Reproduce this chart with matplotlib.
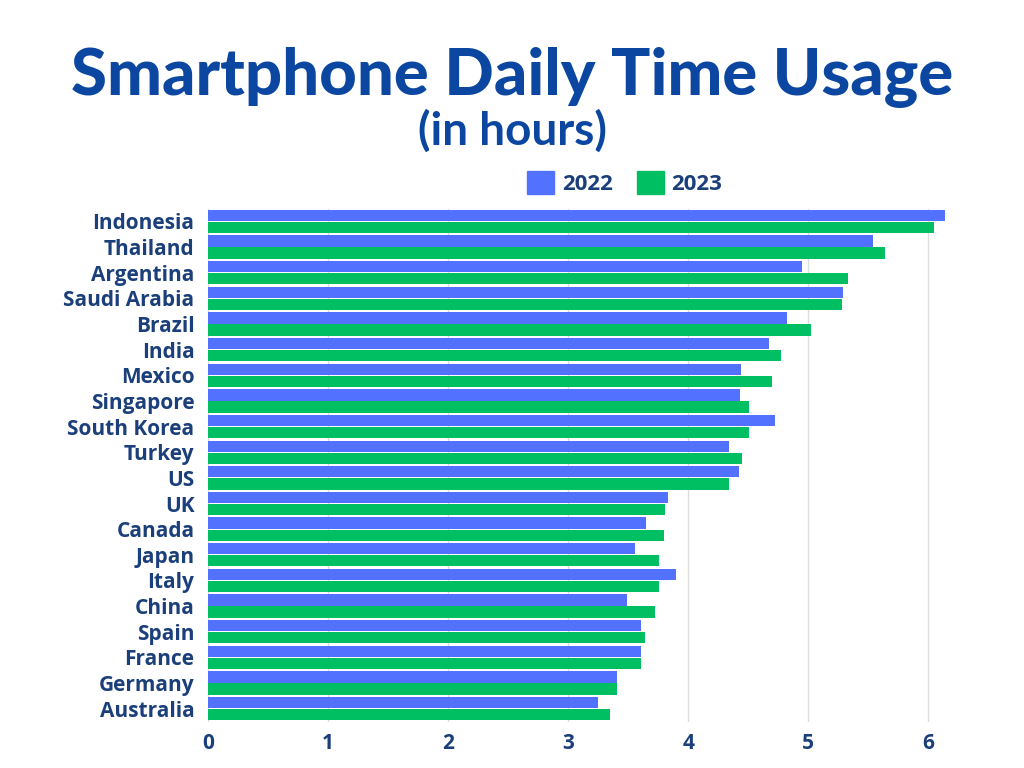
import numpy as np
import matplotlib.pyplot as plt
from matplotlib.patches import Patch

countries = ['Indonesia', 'Thailand', 'Argentina', 'Saudi Arabia', 'Brazil',
             'India', 'Mexico', 'Singapore', 'South Korea', 'Turkey', 'US',
             'UK', 'Canada', 'Japan', 'Italy', 'China', 'Spain', 'France',
             'Germany', 'Australia']
usage_2022 = [6.14, 5.54, 4.95, 5.29, 4.82, 4.67, 4.44, 4.43, 4.72, 4.34, 4.42,
              3.83, 3.65, 3.56, 3.90, 3.49, 3.61, 3.61, 3.41, 3.25]
usage_2023 = [6.05, 5.64, 5.33, 5.28, 5.02, 4.77, 4.70, 4.51, 4.51, 4.45, 4.34,
              3.81, 3.80, 3.76, 3.76, 3.72, 3.64, 3.61, 3.41, 3.35]
xticks = [0, 1, 2, 3, 4, 5, 6]

blue = '#5271FF'
green = '#00BF63'
title_col = '#0B47A1'
label_col = '#1B3F7A'

plt.rcParams['font.family'] = ['Open Sans', 'DejaVu Sans']

fig = plt.figure(figsize=(10.24, 7.68), dpi=100)
ax = fig.add_axes([0.2034, 0.0605, 0.7324, 0.6680])

y = np.arange(len(countries))[::-1]
h = 0.44
ax.barh(y + 0.235, usage_2022, height=h, color=blue, zorder=2)
ax.barh(y - 0.235, usage_2023, height=h, color=green, zorder=2)

ax.set_xlim(0, 6.25)
ax.set_ylim(-0.5, len(countries) - 0.5)
ax.set_yticks(y)
ax.set_yticklabels(countries)
ax.set_xticks(xticks)
ax.set_xticklabels([str(t) for t in xticks])
ax.tick_params(axis='y', length=0, pad=10, labelsize=15, labelcolor=label_col)
ax.tick_params(axis='x', length=0, pad=8, labelsize=15, labelcolor=label_col)
for lbl in ax.get_yticklabels() + ax.get_xticklabels():
    lbl.set_fontweight('bold')

ax.grid(axis='x', color='#DDDDDD', linewidth=1, zorder=0)
for s in ax.spines.values():
    s.set_visible(False)

fig.text(0.5, 1 - 78 / 768, 'Smartphone Daily Time Usage', ha='center', va='center',
         fontsize=47, fontweight='black', color=title_col, family=['Lato', 'DejaVu Sans'])
fig.text(0.5, 1 - 131 / 768, '(in hours)', ha='center', va='center',
         fontsize=33, fontweight='bold', color=title_col, family=['Lato', 'DejaVu Sans'])

handles = [Patch(color=blue, label='2022'), Patch(color=green, label='2023')]
leg = fig.legend(handles=handles, loc='center', bbox_to_anchor=(625 / 1024, 1 - 183 / 768),
                 ncol=2, frameon=False, handlelength=1.2, handleheight=1.2,
                 handletextpad=0.35, columnspacing=1.1,
                 prop={'size': 16, 'weight': 'bold'})
for t in leg.get_texts():
    t.set_color(label_col)

fig.savefig('out.png', dpi=100)
